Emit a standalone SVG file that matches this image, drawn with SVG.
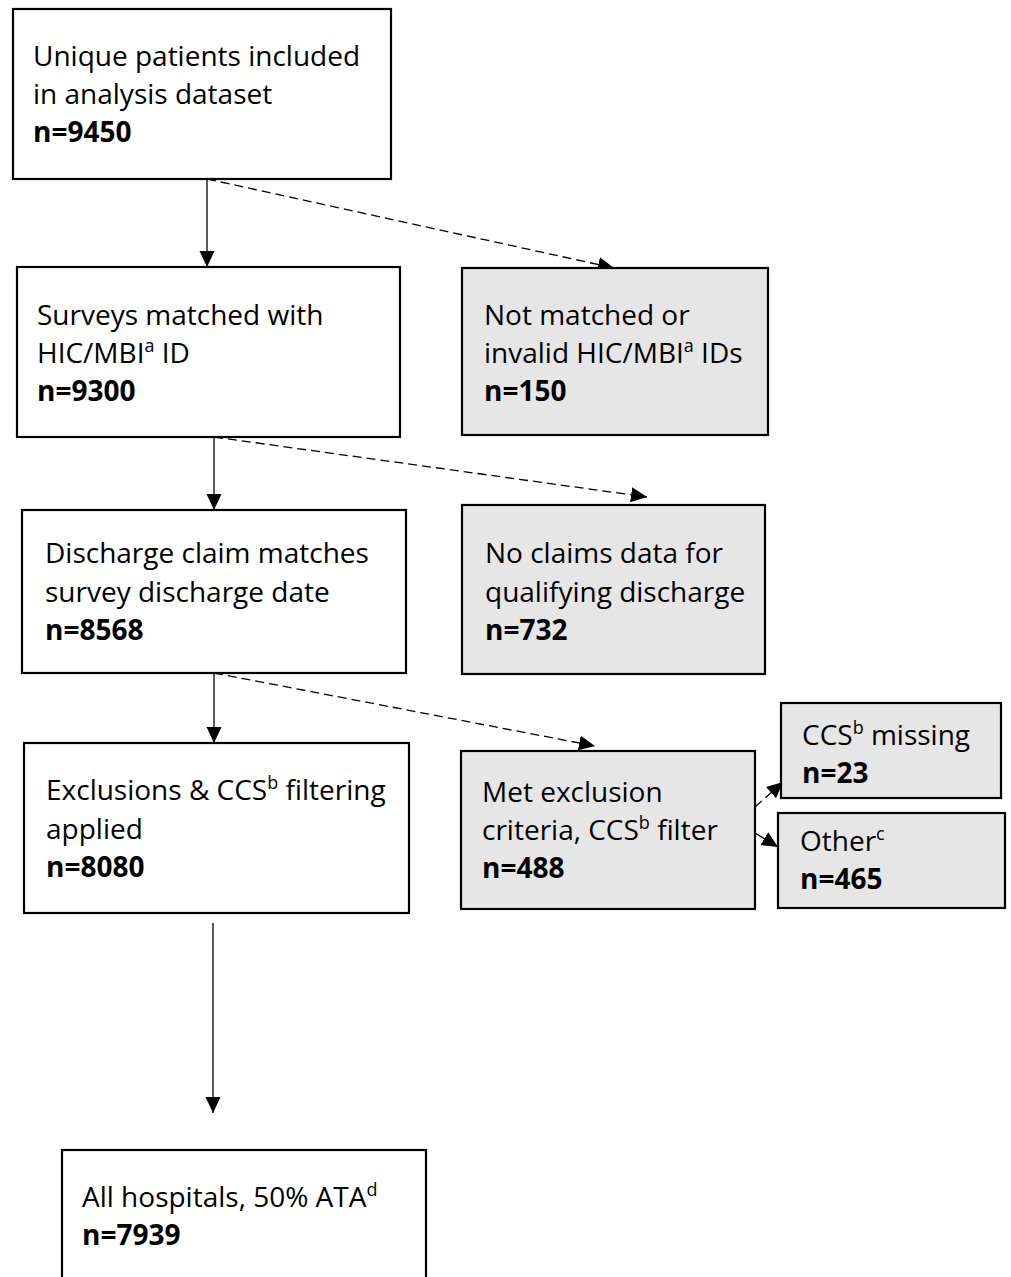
<svg xmlns="http://www.w3.org/2000/svg" width="1011" height="1277" viewBox="0 0 1011 1277">
<defs>
<style>
.box{fill:#ffffff;stroke:#000;stroke-width:2.2}
.gray{fill:#e7e6e6;stroke:#000;stroke-width:2.2}
text{font-family:"Open Sans","Noto Sans","Liberation Sans",sans-serif;font-size:28px;fill:#000}
.b{font-weight:bold}
.sup{font-size:18px}
.c{fill:none;stroke:#000;stroke-width:1.3}
.d{stroke-dasharray:9 5}
</style>
<marker id="ah" markerUnits="userSpaceOnUse" markerWidth="18" markerHeight="18" refX="16" refY="7.5" orient="auto">
<path d="M0,0 L16,7.5 L0,15 Z" fill="#000"/>
</marker>
</defs>
<rect width="1011" height="1277" fill="#fff"/>
<g id="connectors">
<line class="c" x1="207" y1="179" x2="207" y2="267" marker-end="url(#ah)"/>
<line class="c d" x1="207" y1="179" x2="614" y2="268" marker-end="url(#ah)"/>
<line class="c" x1="214" y1="437" x2="214" y2="510" marker-end="url(#ah)"/>
<line class="c d" x1="214" y1="437" x2="647" y2="497" marker-end="url(#ah)"/>
<line class="c" x1="214" y1="673" x2="214" y2="743" marker-end="url(#ah)"/>
<line class="c d" x1="214" y1="673" x2="595" y2="746" marker-end="url(#ah)"/>
<line class="c" x1="213" y1="923" x2="213" y2="1113" marker-end="url(#ah)"/>
<line class="c d" x1="755" y1="807" x2="783" y2="782" marker-end="url(#ah)"/>
<line class="c" x1="755" y1="833" x2="778" y2="847" marker-end="url(#ah)"/>
</g>
<g id="n1">
<rect class="box" x="13" y="9" width="378" height="170"/>
<text x="33" y="66">Unique patients included</text>
<text x="33" y="104">in analysis dataset</text>
<text x="33" y="142" class="b">n=9450</text>
</g>
<g id="n2">
<rect class="box" x="17" y="267" width="383" height="170"/>
<text x="37" y="325">Surveys matched with</text>
<text x="37" y="363">HIC/MBI<tspan class="sup" dy="-11">a</tspan><tspan dy="11"> ID</tspan></text>
<text x="37" y="401" class="b">n=9300</text>
</g>
<g id="n3">
<rect class="gray" x="462" y="268" width="306" height="167"/>
<text x="484" y="325">Not matched or</text>
<text x="484" y="363">invalid HIC/MBI<tspan class="sup" dy="-11">a</tspan><tspan dy="11"> IDs</tspan></text>
<text x="484" y="401" class="b">n=150</text>
</g>
<g id="n4">
<rect class="box" x="22" y="510" width="384" height="163"/>
<text x="45" y="563">Discharge claim matches</text>
<text x="45" y="602">survey discharge date</text>
<text x="45" y="640" class="b">n=8568</text>
</g>
<g id="n5">
<rect class="gray" x="462" y="505" width="303" height="169"/>
<text x="485" y="563">No claims data for</text>
<text x="485" y="602">qualifying discharge</text>
<text x="485" y="640" class="b">n=732</text>
</g>
<g id="n6">
<rect class="box" x="24" y="743" width="385" height="170"/>
<text x="46" y="800">Exclusions &amp; CCS<tspan class="sup" dy="-11">b</tspan><tspan dy="11"> filtering</tspan></text>
<text x="46" y="839">applied</text>
<text x="46" y="877" class="b">n=8080</text>
</g>
<g id="n7">
<rect class="gray" x="461" y="751" width="294" height="158"/>
<text x="482" y="802">Met exclusion</text>
<text x="482" y="840">criteria, CCS<tspan class="sup" dy="-11">b</tspan><tspan dy="11"> filter</tspan></text>
<text x="482" y="878" class="b">n=488</text>
</g>
<g id="n8">
<rect class="gray" x="781" y="703" width="220" height="95"/>
<text x="802" y="745">CCS<tspan class="sup" dy="-11">b</tspan><tspan dy="11"> missing</tspan></text>
<text x="802" y="783" class="b">n=23</text>
</g>
<g id="n9">
<rect class="gray" x="778" y="813" width="227" height="95"/>
<text x="800" y="851">Other<tspan class="sup" dy="-11">c</tspan></text>
<text x="800" y="889" class="b">n=465</text>
</g>
<g id="n10">
<rect class="box" x="62" y="1150" width="364" height="140"/>
<text x="82" y="1207">All hospitals, 50% ATA<tspan class="sup" dy="-11">d</tspan></text>
<text x="82" y="1245" class="b">n=7939</text>
</g>
</svg>
